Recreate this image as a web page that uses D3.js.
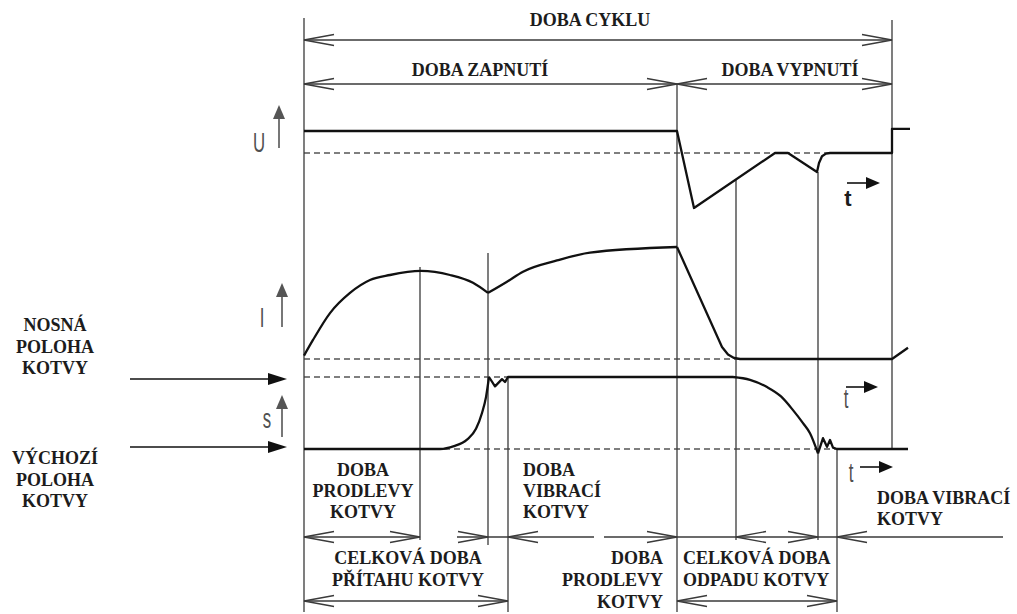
<!DOCTYPE html>
<html><head><meta charset="utf-8">
<script src="https://cdn.jsdelivr.net/npm/d3@7"></script>
<style>
body{margin:0;background:#fff}
.lbl{font-family:"Liberation Serif","Times New Roman",serif;font-weight:bold;font-size:18px;fill:#1c1c1c}
.sym{font-family:"Liberation Sans",Arial,sans-serif;font-size:28px;fill:#505050}
</style>
</head><body>
<svg id="c" width="1017" height="614"></svg>
<script>
// ---- data (time axis: arbitrary units, one cycle = 0..588) ----
const cycle = [0, 588];
const tOnEnd = 373;                       // end of DOBA ZAPNUTÍ
const phaseMarks = [116, 184, 204, 432, 514, 533];
// voltage U (0 = rest level, 1 = supply level)
const uSeries = [[0,1],[373,1],[390,-2.5],[471,0],[484,0],[513,-0.86],[515,-0.45],[518,-0.15],[522,-0.03],[526,0],[588,0],[588,1.1],[606,1.1]];
// current I
const iRise1 = [[0,0.03],[9,0.17],[26,0.41],[46,0.59],[66,0.705],[86,0.75],[117,0.786],[146,0.75],[169,0.68],[184,0.59]];
const iRise2 = [[184,0.59],[203,0.69],[219,0.78],[253,0.88],[286,0.95],[373,1.0]];
const iFall  = [[373,1.0],[418,0.107],[424,0.04],[430,0.01],[436,0],[588,0],[604,0.1]];
// armature position s (0 = výchozí, 1 = nosná)
const sRise  = [[0,0],[136,0],[150,0.04],[163,0.13],[172,0.28],[178,0.5],[182,0.72],[185,1]];
const sVib1  = [[185,1],[191,0.87],[198,0.97],[201,0.93],[204,1],[429,1]];
const sFall  = [[429,1],[446,0.96],[463,0.86],[477,0.73],[489,0.54],[499,0.36],[506,0.22],[514,-0.06]];
const sVib2  = [[514,-0.06],[519,0.15],[523,0.03],[526,0.125],[529,0.02],[533,0],[604,0]];

// ---- scales ----
const svg = d3.select("#c");
const x  = d3.scaleLinear().domain(cycle).range([304, 892]);
const yU = d3.scaleLinear().domain([0,1]).range([153,131]);
const yI = d3.scaleLinear().domain([0,1]).range([359,247]);
const yS = d3.scaleLinear().domain([0,1]).range([449,377]);

const ink = "#111", thin = "#3a3a3a";

// dashed reference levels
function dashed(y, t0, t1){
  svg.append("line").attr("x1",x(t0)).attr("x2",x(t1)).attr("y1",y).attr("y2",y)
    .attr("stroke","#555").attr("stroke-width",1.3).attr("stroke-dasharray","6,4");
}
dashed(yU(0), 0, 588);
dashed(yI(0), 0, 436);
dashed(yS(1), 0, 204);
dashed(yS(0), 0, 588);

// guide verticals
const uAt = t => { for(let k=1;k<uSeries.length;k++){const a=uSeries[k-1],b=uSeries[k]; if(t>=a[0]&&t<=b[0]&&b[0]>a[0]) return a[1]+(b[1]-a[1])*(t-a[0])/(b[0]-a[0]);} return 0; };
const guides = [
  {t:cycle[0], y1:18, y2:612},
  {t:cycle[1], y1:20, y2:yS(0)},
  {t:tOnEnd, y1:84, y2:612},
  {t:phaseMarks[0], y1:267, y2:540},
  {t:phaseMarks[1], y1:253, y2:545},
  {t:phaseMarks[2], y1:yS(1), y2:612},
  {t:phaseMarks[3], y1:yU(uAt(phaseMarks[3])), y2:540},
  {t:phaseMarks[4], y1:yU(-0.86), y2:540},
  {t:phaseMarks[5], y1:yS(0), y2:612}
];
svg.selectAll(".g").data(guides).join("line")
  .attr("x1",d=>x(d.t)).attr("x2",d=>x(d.t)).attr("y1",d=>d.y1).attr("y2",d=>d.y2)
  .attr("stroke",thin).attr("stroke-width",1.3);

// curves
function curve(data, yS_, c){
  svg.append("path").datum(data)
    .attr("d", d3.line().x(d=>x(d[0])).y(d=>yS_(d[1])).curve(c))
    .attr("fill","none").attr("stroke",ink).attr("stroke-width",2.3).attr("stroke-linejoin","round");
}
curve(uSeries, yU, d3.curveLinear);
curve(iRise1, yI, d3.curveMonotoneX);
curve(iRise2, yI, d3.curveMonotoneX);
curve(iFall, yI, d3.curveLinear);
curve(sRise, yS, d3.curveMonotoneX);
curve(sVib1, yS, d3.curveLinear);
curve(sFall, yS, d3.curveMonotoneX);
curve(sVib2, yS, d3.curveLinear);

// dimension lines with open arrowheads
function seg(x1,x2,y){ svg.append("line").attr("x1",x1).attr("x2",x2).attr("y1",y).attr("y2",y).attr("stroke",thin).attr("stroke-width",1.3); }
function openArrow(px, y, dir){ // dir -1: points left, +1: points right
  const L=30,h=5.5;
  svg.append("path").attr("d",`M${px-dir*L},${y-h}L${px},${y}L${px-dir*L},${y+h}`)
    .attr("fill","none").attr("stroke",thin).attr("stroke-width",1.3);
}
// top rows
seg(x(0),x(588),40); openArrow(x(0),40,-1); openArrow(x(588),40,1);
seg(x(0),x(tOnEnd),84); openArrow(x(0),84,-1); openArrow(x(tOnEnd),84,1);
seg(x(tOnEnd),x(588),84); openArrow(x(tOnEnd),84,-1); openArrow(x(588),84,1);
// row 1 bottom
const r1 = 537;
seg(x(0),x(116),r1); seg(x(184)-31,594,r1); seg(604,1003,r1);
openArrow(x(0),r1,-1); openArrow(x(116),r1,1); openArrow(x(184),r1,1); openArrow(x(204),r1,-1);
openArrow(x(tOnEnd),r1,1); openArrow(x(432),r1,-1); openArrow(x(514),r1,1); openArrow(x(533),r1,-1);
// row 2 bottom
const r2 = 601;
seg(x(0),x(204),r2); openArrow(x(0),r2,-1); openArrow(x(204),r2,1);
seg(x(tOnEnd),x(533),r2); openArrow(x(tOnEnd),r2,-1); openArrow(x(533),r2,1);

// filled arrows
function filledArrow(x1,y1,x2,y2,len,hw,col){
  const a=Math.atan2(y2-y1,x2-x1);
  const bx=x2-len*Math.cos(a), by=y2-len*Math.sin(a);
  svg.append("line").attr("x1",x1).attr("y1",y1).attr("x2",bx).attr("y2",by).attr("stroke",col).attr("stroke-width",1.6);
  const px=-Math.sin(a)*hw, py=Math.cos(a)*hw;
  svg.append("path").attr("d",`M${x2},${y2}L${bx+px},${by+py}L${bx-px},${by-py}Z`).attr("fill",col);
}
filledArrow(130,379,287,379,19,6,"#111");
filledArrow(130,447,287,447,19,6,"#111");
filledArrow(279,148,279,105,14,6,"#555");
filledArrow(282,327,282,283,14,6,"#555");
filledArrow(282,437,282,395,14,6,"#555");
filledArrow(847,183,880,183,14,6,"#111");
filledArrow(846,387,878,387,14,6,"#111");
filledArrow(860,467,893,467,14,6,"#111");

// symbols
function sym(t,px,py){ svg.append("text").attr("class","sym").attr("text-anchor","middle")
  .attr("transform",`translate(${px},${py}) scale(0.6,1)`).text(t); }
sym("U",259,152); sym("I",262,327); sym("s",267,428); sym("t",846,408); sym("t",851,482);
svg.append("text").attr("x",848).attr("y",206).attr("text-anchor","middle")
  .style("font-family","Liberation Sans,Arial,sans-serif").style("font-weight","bold").style("font-size","22px").attr("fill","#1c1c1c").text("t");

// labels
function lbl(lines, px, y0, anchor, dy){
  const t = svg.append("text").attr("class","lbl").attr("text-anchor",anchor);
  lines.forEach((s,k)=>t.append("tspan").attr("x",px).attr("y",y0+k*dy).text(s));
}
lbl(["DOBA CYKLU"], 590, 26, "middle", 0);
lbl(["DOBA ZAPNUTÍ"], 480, 76, "middle", 0);
lbl(["DOBA VYPNUTÍ"], 790, 76, "middle", 0);
lbl(["NOSNÁ","POLOHA","KOTVY"], 55, 331, "middle", 21.5);
lbl(["VÝCHOZÍ","POLOHA","KOTVY"], 55, 464, "middle", 21.5);
lbl(["DOBA","PRODLEVY","KOTVY"], 363, 476, "middle", 21);
lbl(["DOBA","VIBRACÍ","KOTVY"], 523, 476, "start", 21);
lbl(["CELKOVÁ DOBA","PŘÍTAHU KOTVY"], 408, 564, "middle", 22);
lbl(["DOBA","PRODLEVY","KOTVY"], 663, 564, "end", 22);
lbl(["CELKOVÁ DOBA","ODPADU KOTVY"], 683, 564, "start", 22);
lbl(["DOBA VIBRACÍ","KOTVY"], 877, 504, "start", 21);
</script>
</body></html>
